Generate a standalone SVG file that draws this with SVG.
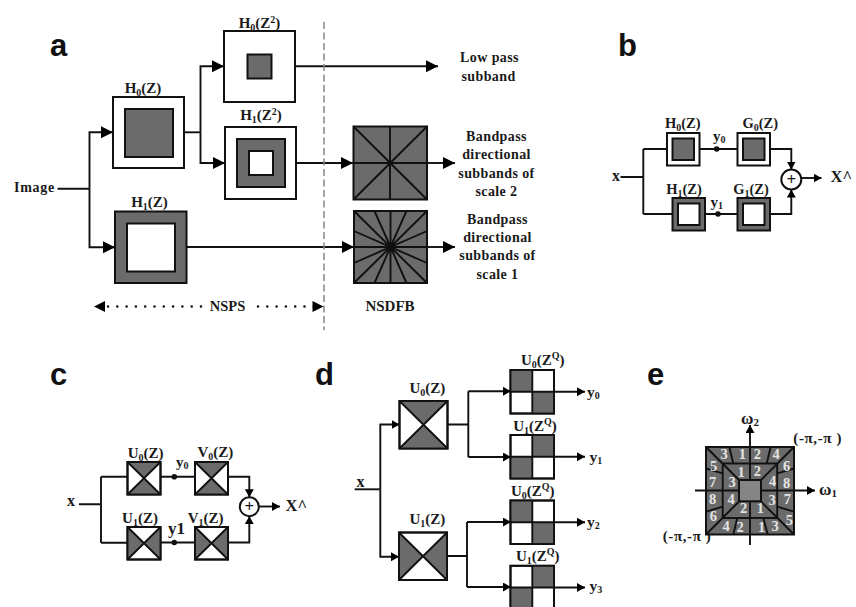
<svg xmlns="http://www.w3.org/2000/svg" width="856" height="607" viewBox="0 0 856 607">
<style>
text{font-family:"Liberation Serif","Times New Roman",serif;font-weight:bold;fill:#1a1a1a}
.p{font-family:"Liberation Sans",Arial,sans-serif;font-size:31px;fill:#111}
.l{font-size:15px;text-anchor:middle}
.m{font-size:14.5px;text-anchor:middle}
.t{font-size:14px;letter-spacing:.4px;text-anchor:middle}
.n{font-size:14.5px;text-anchor:middle;fill:#e4e4e4}
.w{fill:#fff;stroke:#111;stroke-width:2}
.g{fill:#6b6b6b;stroke:#111;stroke-width:2}
.r{fill:none;stroke:#111;stroke-width:1.9}
.c{fill:none;stroke:#111;stroke-width:1.9}
.ca{marker-end:url(#big)}
.cs{marker-end:url(#small)}
.f{fill:#6b6b6b;stroke:none}
.d{fill:#111}
</style>
<defs>
<marker id="big" markerUnits="userSpaceOnUse" markerWidth="13" markerHeight="13" refX="12" refY="6" orient="auto"><path d="M0,0L12,6L0,12z" fill="#000"/></marker>
<marker id="small" markerUnits="userSpaceOnUse" markerWidth="9" markerHeight="10" refX="8" refY="4.5" orient="auto"><path d="M0,0L8,4.500L0,9z" fill="#000"/></marker>
</defs>

<text class="p" x="50" y="56">a</text>
<text class="p" x="618" y="56">b</text>
<text class="p" x="50" y="385">c</text>
<text class="p" x="315" y="385">d</text>
<text class="p" x="647" y="385">e</text>

<g id="a-h0z"><rect class="w" x="113" y="97" width="71" height="71"/><rect class="g" x="125" y="109" width="48" height="48"/>
<text class="l" x="143" y="93">H<tspan font-size="10" dy="3">0</tspan><tspan dy="-3">(Z)</tspan></text></g>
<g id="a-h0z2"><rect class="w" x="224" y="31" width="71" height="71"/><rect class="g" x="247.500" y="54.500" width="24" height="24"/>
<text class="l" x="259.500" y="27.500">H<tspan font-size="10" dy="3">0</tspan><tspan dy="-3">(Z</tspan><tspan font-size="10" dy="-5">2</tspan><tspan dy="5">)</tspan></text></g>
<g id="a-h1z2"><rect class="w" x="225" y="127" width="71" height="72"/><rect class="g" x="237" y="139" width="48" height="48"/><rect class="w" x="249" y="151" width="24" height="24"/>
<text class="l" x="261" y="120">H<tspan font-size="10" dy="3">1</tspan><tspan dy="-3">(Z</tspan><tspan font-size="10" dy="-5">2</tspan><tspan dy="5">)</tspan></text></g>
<g id="a-h1z"><rect class="g" x="115" y="211.500" width="71.500" height="71.500"/><rect class="w" x="127" y="223.500" width="48" height="48"/>
<text class="l" x="149.500" y="207">H<tspan font-size="10" dy="3">1</tspan><tspan dy="-3">(Z)</tspan></text></g>
<g id="a-dfb2"><rect class="g" x="353.500" y="126.500" width="73.500" height="73"/>
<path class="r" d="M353.500,126.500L427,199.500M353.500,199.500L427,126.500M390,126.500V199.500M353.500,163H427"/><circle class="d" cx="390" cy="163" r="2.200"/></g>
<g id="a-dfb1"><rect class="g" x="354" y="211" width="73" height="72"/>
<path class="r" d="M354,211L427,283M354,283L427,211M390.500,211V283M354,247H427M374.500,211L406.500,283M406.500,211L374.500,283M354,231L427,263M354,263L427,231"/></g>
<g id="a-labels">
<text x="14" y="192" font-size="14" letter-spacing=".7">Image</text>
<text class="t" x="489.500" y="62">Low pass</text><text class="t" x="488.500" y="81">subband</text>
<text class="t" x="496.500" y="140.500">Bandpass</text><text class="t" x="496.500" y="159">directional</text><text class="t" x="496.500" y="177.500">subbands of</text><text class="t" x="496.500" y="196">scale 2</text>
<text class="t" x="497.500" y="223.500">Bandpass</text><text class="t" x="497.500" y="242">directional</text><text class="t" x="497.500" y="260">subbands of</text><text class="t" x="497.500" y="278.500">scale 1</text>
<text class="l" x="390" y="311">NSDFB</text><text class="m" x="227.500" y="311">NSPS</text>
</g>

<g id="b-h0"><rect class="w" x="667" y="133" width="32.500" height="32.500"/><rect class="g" x="672.500" y="138.500" width="21.500" height="21.500"/><text class="m" x="682.700" y="127.500">H<tspan font-size="10" dy="3">0</tspan><tspan dy="-3">(Z)</tspan></text></g>
<g id="b-g0"><rect class="w" x="737.500" y="133" width="32.500" height="32.500"/><rect class="g" x="743" y="138.500" width="21.500" height="21.500"/><text class="m" x="760.300" y="127.500">G<tspan font-size="10" dy="3">0</tspan><tspan dy="-3">(Z)</tspan></text></g>
<g id="b-h1"><rect class="g" x="672.500" y="198" width="32.500" height="32.500"/><rect class="w" x="678" y="203.500" width="21.500" height="21.500"/><text class="m" x="684" y="193.500">H<tspan font-size="10" dy="3">1</tspan><tspan dy="-3">(Z)</tspan></text></g>
<g id="b-g1"><rect class="g" x="737.500" y="198" width="32.500" height="32.500"/><rect class="w" x="743" y="203.500" width="21.500" height="21.500"/><text class="m" x="751" y="193.500">G<tspan font-size="10" dy="3">1</tspan><tspan dy="-3">(Z)</tspan></text></g>
<g id="b-sum"><circle class="w" cx="791.300" cy="179.500" r="10"/><text x="791.300" y="185" font-size="17" text-anchor="middle" font-weight="normal">+</text></g>
<g id="b-labels"><text x="612" y="181" font-size="16">x</text><text x="830.500" y="182" font-size="16.500">X^</text>
<text x="713" y="141" font-size="15">y<tspan font-size="10" dy="2">0</tspan></text><text x="710.500" y="207" font-size="15">y<tspan font-size="10" dy="2">1</tspan></text></g>

<g id="c-u0"><rect class="w" x="127.500" y="462" width="33" height="32.500"/><path class="f" d="M127.500,462H160.500L144,478.200zM127.500,494.500H160.500L144,478.200z"/><path class="r" d="M127.500,462L160.500,494.500M127.500,494.500L160.500,462"/><rect class="r" x="127.500" y="462" width="33" height="32.500"/><text class="l" x="145.700" y="457.500">U<tspan font-size="10" dy="3">0</tspan><tspan dy="-3">(Z)</tspan></text></g>
<g id="c-v0"><rect class="w" x="195" y="462" width="33" height="32.500"/><path class="f" d="M195,462H228L211.500,478.200zM195,494.500H228L211.500,478.200z"/><path class="r" d="M195,462L228,494.500M195,494.500L228,462"/><rect class="r" x="195" y="462" width="33" height="32.500"/><text class="l" x="215.300" y="456.500">V<tspan font-size="10" dy="3">0</tspan><tspan dy="-3">(Z)</tspan></text></g>
<g id="c-u1"><rect class="w" x="127.500" y="527" width="33" height="32.500"/><path class="f" d="M127.500,527V559.500L144,543.200zM160.500,527V559.500L144,543.200z"/><path class="r" d="M127.500,527L160.500,559.500M127.500,559.500L160.500,527"/><rect class="r" x="127.500" y="527" width="33" height="32.500"/><text class="l" x="140" y="522.500">U<tspan font-size="10" dy="3">1</tspan><tspan dy="-3">(Z)</tspan></text></g>
<g id="c-v1"><rect class="w" x="195" y="527" width="33" height="32.500"/><path class="f" d="M195,527V559.500L211.500,543.200zM228,527V559.500L211.500,543.200z"/><path class="r" d="M195,527L228,559.500M195,559.500L228,527"/><rect class="r" x="195" y="527" width="33" height="32.500"/><text class="l" x="205.700" y="522.500">V<tspan font-size="10" dy="3">1</tspan><tspan dy="-3">(Z)</tspan></text></g>
<g id="c-sum"><circle class="w" cx="249.300" cy="506.700" r="9.500"/><text x="249.300" y="512" font-size="17" text-anchor="middle" font-weight="normal">+</text></g>
<g id="c-labels"><text x="67" y="506" font-size="16">x</text><text x="285.500" y="511" font-size="16.500">X^</text>
<text x="176" y="467" font-size="15">y<tspan font-size="10" dy="2">0</tspan></text><text x="168" y="533.500" font-size="17">y1</text></g>

<g id="d-u0"><rect class="w" x="399.500" y="401" width="48" height="47.500"/><path class="f" d="M399.500,401H447.500L423.500,424.700zM399.500,448.500H447.500L423.500,424.700z"/><path class="r" d="M399.500,401L447.500,448.500M399.500,448.500L447.500,401"/><rect class="r" x="399.500" y="401" width="48" height="47.500"/><text class="l" x="427.300" y="392.700">U<tspan font-size="10" dy="3">0</tspan><tspan dy="-3">(Z)</tspan></text></g>
<g id="d-u1"><rect class="w" x="399" y="532.500" width="48" height="47.500"/><path class="f" d="M399,532.500V580L423,556.200zM447,532.500V580L423,556.200z"/><path class="r" d="M399,532.500L447,580M399,580L447,532.500"/><rect class="r" x="399" y="532.500" width="48" height="47.500"/><text class="l" x="427.300" y="524.300">U<tspan font-size="10" dy="3">1</tspan><tspan dy="-3">(Z)</tspan></text></g>
<g id="d-q0"><rect class="w" x="510.500" y="370" width="43.500" height="43.500"/><path class="f" d="M510.500,370H532.300V391.700H510.500zM532.300,391.700H554V413.500H532.300z"/><path class="r" d="M532.300,370V413.500"/><rect class="r" x="510.500" y="370" width="43.500" height="43.500"/><text class="l" x="542.700" y="365.300">U<tspan font-size="10" dy="3">0</tspan><tspan dy="-3">(Z</tspan><tspan font-size="10" dy="-6">Q</tspan><tspan dy="6">)</tspan></text></g>
<g id="d-q1"><rect class="w" x="510.500" y="435" width="43.500" height="43.500"/><path class="f" d="M532.300,435H554V456.700H532.300zM510.500,456.700H532.300V478.500H510.500z"/><path class="r" d="M532.300,435V478.500"/><rect class="r" x="510.500" y="435" width="43.500" height="43.500"/><text class="l" x="535" y="430.700">U<tspan font-size="10" dy="3">1</tspan><tspan dy="-3">(Z</tspan><tspan font-size="10" dy="-6">Q</tspan><tspan dy="6">)</tspan></text></g>
<g id="d-q2"><rect class="w" x="510.500" y="500.500" width="43.500" height="43.500"/><path class="f" d="M510.500,500.500H532.300V522.200H510.500zM532.300,522.200H554V544H532.300z"/><path class="r" d="M532.300,500.500V544"/><rect class="r" x="510.500" y="500.500" width="43.500" height="43.500"/><text class="l" x="532.700" y="495.700">U<tspan font-size="10" dy="3">0</tspan><tspan dy="-3">(Z</tspan><tspan font-size="10" dy="-6">Q</tspan><tspan dy="6">)</tspan></text></g>
<g id="d-q3"><rect class="w" x="510.500" y="565.800" width="43.500" height="43.500"/><path class="f" d="M532.300,565.800H554V587.500H532.300zM510.500,587.500H532.300V609.300H510.500z"/><path class="r" d="M532.300,565.800V609"/><rect class="r" x="510.500" y="565.800" width="43.500" height="43.500"/><text class="l" x="537.700" y="560.700">U<tspan font-size="10" dy="3">1</tspan><tspan dy="-3">(Z</tspan><tspan font-size="10" dy="-6">Q</tspan><tspan dy="6">)</tspan></text></g>
<g id="d-labels"><text x="356.500" y="487.300" font-size="16">x</text>
<text x="587" y="396.700" font-size="15.500">y<tspan font-size="10" dy="2">0</tspan></text><text x="589.500" y="461.700" font-size="15.500">y<tspan font-size="10" dy="2">1</tspan></text><text x="587" y="526.700" font-size="15.500">y<tspan font-size="10" dy="2">2</tspan></text><text x="589.500" y="590.700" font-size="15.500">y<tspan font-size="10" dy="2">3</tspan></text></g>

<g id="e-plane">
<rect class="g" x="706" y="447" width="88" height="87.500"/>
<rect class="r" x="722.700" y="463.500" width="54.500" height="54.500"/>
<path class="r" d="M706,447L739,480M794,447L761,480M706,534.500L739,501.500M794,534.500L761,501.500"/>
<path class="r" d="M729.300,447L733.300,463.500M770.700,447L766.700,463.500M706,468.500L722.700,473.300M794,468.500L777.300,473.300M706,511.700L722.700,506.700M794,511.700L777.300,506.700M737.300,518L733.300,534.500M763.300,518L767.700,534.500"/>
<path class="c cs" d="M750,545V425"/><path class="c cs" d="M695,490.500H815"/>
<rect x="739" y="480" width="22" height="21.300" fill="#858585" stroke="#111" stroke-width="2"/>
<text class="n" x="724" y="459">3</text><text class="n" x="742.300" y="459.300">1</text><text class="n" x="757.300" y="458.500">2</text><text class="n" x="776" y="459.300">4</text>
<text class="n" x="713.700" y="471">5</text><text class="n" x="786.700" y="471">6</text><text class="n" x="712.700" y="486.700">7</text><text class="n" x="786.700" y="488.300">8</text>
<text class="n" x="712.700" y="504">8</text><text class="n" x="787.300" y="504">7</text><text class="n" x="713.300" y="521">6</text><text class="n" x="789.300" y="525">5</text>
<text class="n" x="726" y="531">4</text><text class="n" x="740" y="531.700">2</text><text class="n" x="761.700" y="531.700">1</text><text class="n" x="775" y="531">3</text>
<text class="n" x="741" y="477.300">1</text><text class="n" x="757.300" y="475.700">2</text><text class="n" x="732" y="486.700">3</text><text class="n" x="772.700" y="485.700">4</text>
<text class="n" x="731" y="504">4</text><text class="n" x="772" y="505">3</text><text class="n" x="743.700" y="513.300">2</text><text class="n" x="760.300" y="513.300">1</text>
<text x="741" y="424" font-size="17">ω<tspan font-size="11" dy="2">2</tspan></text>
<text x="819" y="495" font-size="17">ω<tspan font-size="11" dy="2">1</tspan></text>
<text x="793.300" y="442.500" font-size="15" letter-spacing=".6">(-π,-π )</text>
<text x="662.700" y="541" font-size="15" letter-spacing=".6">(-π,-π )</text>
</g>

<g id="connectors">
<path class="c" d="M57.500,188.700H89.500"/>
<path class="c ca" d="M89.500,188.700V132.300H113"/>
<path class="c ca" d="M89.500,188.700V247.300H115"/>
<path class="c" d="M184,132.300H200.500"/>
<path class="c ca" d="M200.500,132.300V66.300H224"/>
<path class="c ca" d="M200.500,132.300V163H225"/>
<path class="c ca" d="M295,66.300H438"/>
<path class="c ca" d="M296,163H353"/>
<path class="c ca" d="M186.500,247H354"/>
<path class="c ca" d="M427,163H455"/>
<path class="c ca" d="M427,247H455"/>
<path d="M324,22V330" fill="none" stroke="#888" stroke-width="1.500" stroke-dasharray="7 3.500"/>
<path d="M108,306.500H205M258,306.500H314" fill="none" stroke="#111" stroke-width="2.600" stroke-linecap="round" stroke-dasharray="0 9.300"/>
<path d="M94,306.500L105,301V312zM323.500,306.500L312.500,301V312z" fill="#000"/>

<path class="c" d="M620.500,177H643.300M643.300,149V214"/>
<path class="c" d="M643.300,149H667M643.300,214H672.500M699.500,149H737.500M705,214H737.500"/>
<circle class="d" cx="716.700" cy="149" r="2.800"/><circle class="d" cx="718" cy="214" r="2.800"/>
<path class="c cs" d="M770,149H791.300V169.500"/>
<path class="c cs" d="M770,214H791.300V189.500"/>
<path class="c cs" d="M801.300,178H821.500"/>

<path class="c" d="M79,504.300H101M101,476.700V542.700M101,476.700H127.500M101,542.700H127.500M160.500,476.700H195M160.500,542.500H195"/>
<circle class="d" cx="174.300" cy="476.700" r="2.800"/><circle class="d" cx="174.300" cy="542.500" r="2.800"/>
<path class="c cs" d="M228,476.700H249.300V497.200"/>
<path class="c cs" d="M228,542.500H249.300V516.200"/>
<path class="c cs" d="M258.800,506.500H280"/>

<path class="c" d="M354.700,489.300H380.300"/>
<path class="c cs" d="M380.300,489.300V424.500H399.500"/>
<path class="c cs" d="M380.300,489.300V556.700H399"/>
<path class="c" d="M447.500,424.500H468.300M468.300,391.300V457M447,556H467M467,522V587"/>
<path class="c cs" d="M468.300,391.300H511"/><path class="c cs" d="M468.300,457H511"/><path class="c cs" d="M467,522H511"/><path class="c cs" d="M467,587H511"/>
<path class="c cs" d="M511,391.700H585"/><path class="c cs" d="M511,456.700H585"/><path class="c cs" d="M511,522.200H585"/><path class="c cs" d="M511,587.500H585"/>
</g>
</svg>
